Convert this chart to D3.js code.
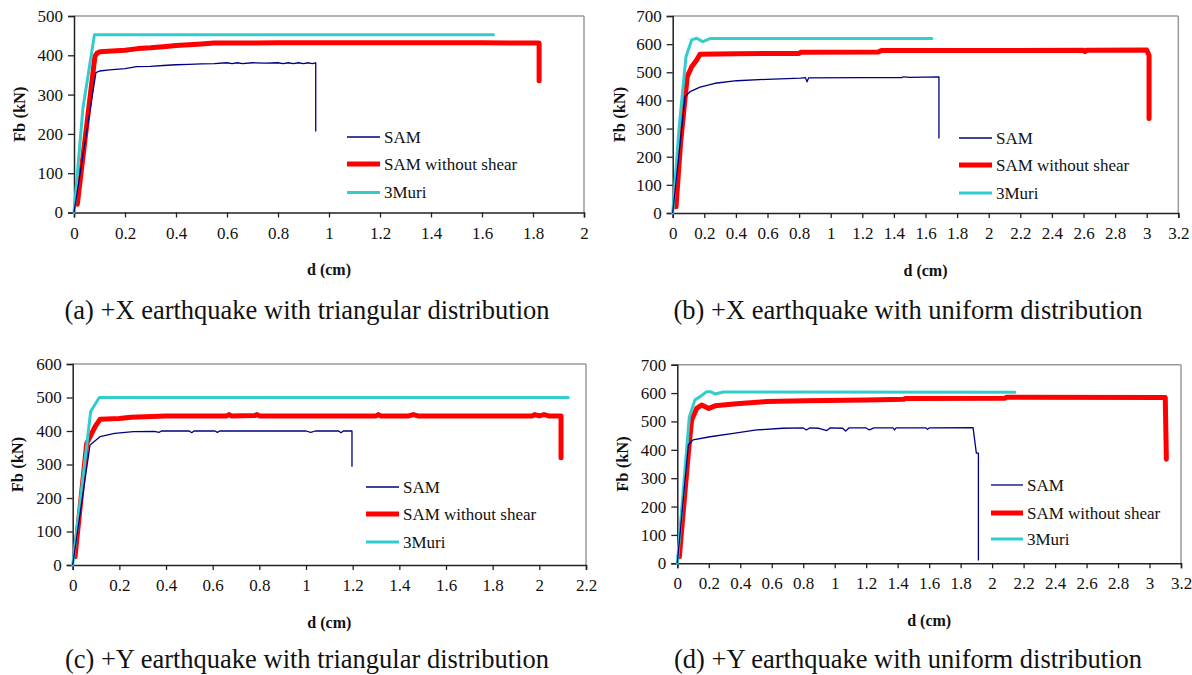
<!DOCTYPE html>
<html><head><meta charset="utf-8">
<script src="https://cdn.jsdelivr.net/npm/d3@7"></script>
<style>
body{margin:0;background:#fff;}
svg{display:block;}
text{font-family:"Liberation Serif","Times New Roman",serif;fill:#111;}
</style></head>
<body>
<svg id="chart" width="1192" height="675"></svg>
<script>
// ---------- DATA ----------
const seriesNames = ["SAM", "SAM without shear", "3Muri"];

const xTicksA = [0,0.2,0.4,0.6,0.8,1,1.2,1.4,1.6,1.8,2];
const yTicksA = [0,100,200,300,400,500];
const xTicksB = [0,0.2,0.4,0.6,0.8,1,1.2,1.4,1.6,1.8,2,2.2,2.4,2.6,2.8,3,3.2];
const yTicksB = [0,100,200,300,400,500,600,700];
const xTicksC = [0,0.2,0.4,0.6,0.8,1,1.2,1.4,1.6,1.8,2,2.2];
const yTicksC = [0,100,200,300,400,500,600];
const xTicksD = [0,0.2,0.4,0.6,0.8,1,1.2,1.4,1.6,1.8,2,2.2,2.4,2.6,2.8,3,3.2];
const yTicksD = [0,100,200,300,400,500,600,700];

const captions = [
  "(a) +X earthquake with triangular distribution",
  "(b) +X earthquake with uniform distribution",
  "(c) +Y earthquake with triangular distribution",
  "(d) +Y earthquake with uniform distribution"
];
const xTitle = "d (cm)";
const yTitle = "Fb (kN)";

// (a)
const a_SAM = [[0,0],[0.086,356],[0.1,360],[0.14,363],[0.2,366],[0.245,371],[0.3,372],[0.35,374],[0.4,376],[0.45,377],[0.5,378],[0.55,379],[0.6,381],[0.62,379],[0.64,381],[0.66,379],[0.7,381],[0.75,380],[0.8,381],[0.82,379],[0.84,381],[0.86,379],[0.88,381],[0.9,379],[0.92,381],[0.935,379],[0.948,381],[0.948,206]];
const a_NoShear = [[0.013,21],[0.082,397],[0.09,405],[0.102,409],[0.15,411],[0.2,413],[0.25,417],[0.3,419],[0.35,422],[0.4,425],[0.45,427],[0.5,429],[0.55,431],[0.6,431],[0.8,432],[1.0,432],[1.2,432],[1.4,432],[1.6,432],[1.824,431],[1.824,335]];
const a_3Muri = [[0,0],[0.035,265],[0.08,452],[1.645,452]];

// (b)
const b_SAM = [[0,0],[0.078,413],[0.11,431],[0.173,447],[0.268,461],[0.405,470],[0.595,475],[0.81,479],[0.84,481],[0.85,466],[0.86,480],[1.2,481],[1.45,481],[1.46,484],[1.5,482],[1.685,484],[1.685,265]];
const b_NoShear = [[0.021,22],[0.05,250],[0.092,484],[0.12,520],[0.152,544],[0.173,564],[0.4,566],[0.8,567],[0.81,571],[1.3,572],[1.32,577],[2.6,578],[2.61,573],[2.62,578],[3.0,579],[3.015,560],[3.015,336]];
const b_3Muri = [[0,0],[0.04,300],[0.084,555],[0.12,615],[0.152,621],[0.19,609],[0.236,620],[1.64,620]];

// (c)
const c_SAM = [[0,0],[0.074,358],[0.117,383],[0.18,393],[0.26,398],[0.35,399],[0.37,396],[0.38,400],[0.5,400],[0.51,395],[0.52,400],[0.61,400],[0.62,396],[0.63,400],[1.0,400],[1.02,396],[1.04,400],[1.14,400],[1.15,395],[1.16,400],[1.197,400],[1.197,293]];
const c_NoShear = [[0.01,25],[0.06,363],[0.096,413],[0.117,435],[0.2,437],[0.25,441],[0.4,445],[0.66,445],[0.67,449],[0.68,445],[0.78,446],[0.79,449],[0.8,445],[1.3,445],[1.31,449],[1.32,445],[1.44,445],[1.46,449],[1.48,445],[1.97,445],[1.98,449],[2.0,445],[2.02,449],[2.04,445],[2.093,445],[2.093,320]];
const c_3Muri = [[0,0],[0.077,458],[0.114,500],[2.124,500]];

// (d)
const d_SAM = [[0,0],[0.07,417],[0.10,435],[0.208,446],[0.356,458],[0.504,470],[0.67,476],[0.8,477],[0.82,470],[0.84,477],[0.9,476],[0.95,468],[0.97,477],[1.05,476],[1.07,466],[1.09,477],[1.2,477],[1.22,470],[1.25,477],[1.37,477],[1.38,470],[1.39,477],[1.58,477],[1.59,472],[1.6,477],[1.879,478],[1.90,388],[1.913,388],[1.913,10]];
const d_NoShear = [[0.013,23],[0.07,388],[0.091,505],[0.123,546],[0.155,558],[0.2,546],[0.24,555],[0.376,562],[0.568,570],[0.81,573],[1.2,576],[1.44,578],[1.45,581],[2.08,582],[2.09,585],[3.1,584],[3.107,367]];
const d_3Muri = [[0,0],[0.076,515],[0.112,576],[0.144,587],[0.187,605],[0.21,605],[0.24,597],[0.292,604],[2.144,603]];

// ---------- LAYOUT / STYLE ----------
const colors = ["#000080", "#ff0000", "#33cccc"];
const widths = [1.3, 5, 3];

const panels = [
  {box:{l:74,t:16,r:584,b:212.5}, xt:xTicksA, yt:yTicksA, series:[a_SAM,a_NoShear,a_3Muri],
   yTitleX:19, leg:{x1:347,x2:380,tx:384,ys:[137,164,192.5]}, cap:captions[0], capX:307, capY:310},
  {box:{l:672.7,t:16,r:1178.3,b:213}, xt:xTicksB, yt:yTicksB, series:[b_SAM,b_NoShear,b_3Muri],
   yTitleX:619, leg:{x1:959,x2:992,tx:996,ys:[138,165,193]}, cap:captions[1], capX:908, capY:310},
  {box:{l:72.7,t:364,r:586,b:565}, xt:xTicksC, yt:yTicksC, series:[c_SAM,c_NoShear,c_3Muri],
   yTitleX:17, leg:{x1:366,x2:399,tx:403,ys:[487,514,542]}, cap:captions[2], capX:307, capY:659},
  {box:{l:677.3,t:364.7,r:1181,b:563.3}, xt:xTicksD, yt:yTicksD, series:[d_SAM,d_NoShear,d_3Muri],
   yTitleX:622, leg:{x1:991,x2:1023,tx:1027,ys:[485,513,539]}, cap:captions[3], capX:908, capY:659}
];

const svg = d3.select("#chart");

panels.forEach(p => {
  const B = p.box;
  const x = d3.scaleLinear().domain([p.xt[0], p.xt[p.xt.length-1]]).range([B.l, B.r]);
  const y = d3.scaleLinear().domain([p.yt[0], p.yt[p.yt.length-1]]).range([B.b, B.t]);
  const g = svg.append("g");

  // plot border (top/right gray)
  g.append("line").attr("x1",B.l).attr("x2",B.r).attr("y1",B.t).attr("y2",B.t).attr("stroke","#9a9a9a").attr("stroke-width",1.5);
  g.append("line").attr("x1",B.r).attr("x2",B.r).attr("y1",B.t).attr("y2",B.b).attr("stroke","#9a9a9a").attr("stroke-width",1.5);

  // axes
  const xAxis = d3.axisBottom(x).tickValues(p.xt).tickSize(5).tickPadding(9).tickFormat(d3.format("~g"));
  const yAxis = d3.axisLeft(y).tickValues(p.yt).tickSize(6).tickPadding(5).tickFormat(d3.format("d"));
  const gx = g.append("g").attr("transform",`translate(0,${B.b})`).call(xAxis);
  const gy = g.append("g").attr("transform",`translate(${B.l},0)`).call(yAxis);
  [gx, gy].forEach(ax => {
    ax.select(".domain").attr("stroke","#222").attr("stroke-width",1.5);
    ax.selectAll(".tick line").attr("stroke","#222").attr("stroke-width",1.3);
    ax.selectAll(".tick text").attr("font-family","Liberation Serif, Times New Roman, serif").attr("font-size",17).attr("fill","#111");
  });

  // series
  const line = d3.line().x(d => x(d[0])).y(d => y(d[1]));
  [1,2,0].forEach(i => {
    g.append("path").datum(p.series[i]).attr("d", line)
      .attr("fill","none").attr("stroke",colors[i]).attr("stroke-width",widths[i])
      .attr("stroke-linejoin","round").attr("stroke-linecap", i===0 ? "butt" : "round");
  });

  // axis titles
  g.append("text").attr("x",(B.l+B.r)/2).attr("y",B.b+57).attr("dy","0.35em")
    .attr("text-anchor","middle").attr("font-weight","bold").attr("font-size",16).text(xTitle);
  g.append("text").attr("transform",`translate(${p.yTitleX},${(B.t+B.b)/2}) rotate(-90)`).attr("dy","0.35em")
    .attr("text-anchor","middle").attr("font-weight","bold").attr("font-size",16.5).text(yTitle);

  // legend
  seriesNames.forEach((name,i) => {
    const ly = p.leg.ys[i];
    g.append("line").attr("x1",p.leg.x1).attr("x2",p.leg.x2).attr("y1",ly).attr("y2",ly)
      .attr("stroke",colors[i]).attr("stroke-width",widths[i]);
    g.append("text").attr("x",p.leg.tx).attr("y",ly).attr("dy","0.35em").attr("font-size",17).text(name);
  });

  // caption
  g.append("text").attr("x",p.capX).attr("y",p.capY).attr("dy","0.35em")
    .attr("text-anchor","middle").attr("font-size",26.5).text(p.cap);
});
</script>
</body></html>
